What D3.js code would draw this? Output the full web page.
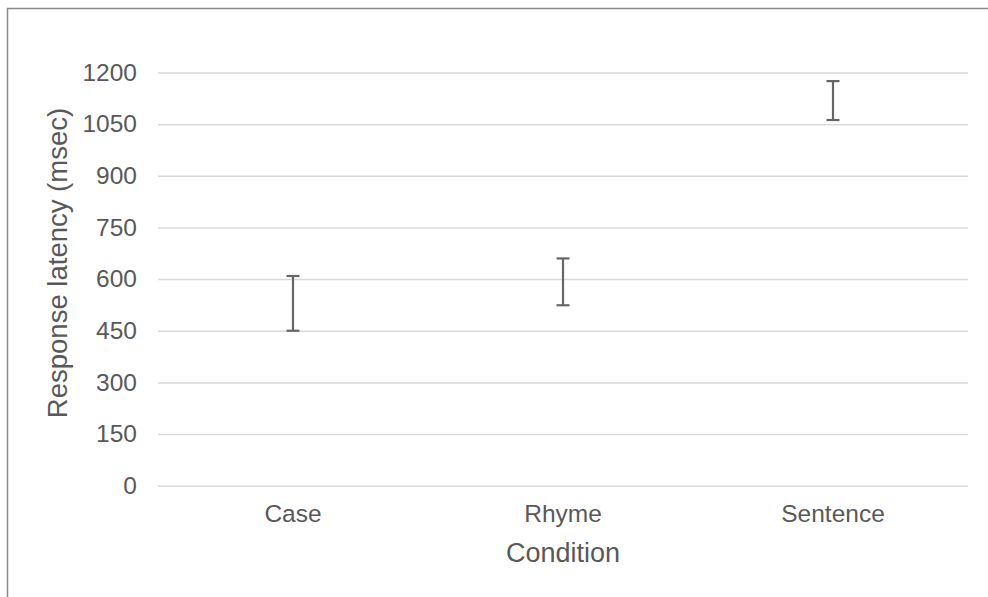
<!DOCTYPE html>
<html>
<head>
<meta charset="utf-8">
<script src="https://cdn.jsdelivr.net/npm/d3@7"></script>
<style>
  body { margin: 0; background: #fff; }
  svg { display: block; font-family: "Liberation Sans", Arial, sans-serif; }
</style>
</head>
<body>
<svg id="chart" width="988" height="597"></svg>
<script>
// condition categories and the error bar extents (msec)
const conditions = ['Case', 'Rhyme', 'Sentence'];
const lowValues = [450, 524, 1062];
const highValues = [609, 660, 1175];
const yTicks = [0, 150, 300, 450, 600, 750, 900, 1050, 1200];

const svg = d3.select('#chart');
const margin = {left: 158, right: 20, top: 72.5, bottom: 111.3};
const width = 988, height = 597;

// outer frame (only left and top edges are visible in the crop)
svg.append('path')
    .attr('d', 'M7.5,597 V8.5 H988')
    .attr('fill', 'none')
    .attr('stroke', '#8c8c8c')
    .attr('stroke-width', 1.5);

const x = d3.scaleBand()
    .domain(conditions)
    .range([margin.left, width - margin.right]);

const y = d3.scaleLinear()
    .domain([0, 1200])
    .range([height - margin.bottom, margin.top]);

// gridlines + y labels
const yAxis = svg.append('g')
    .attr('transform', `translate(${margin.left},0)`)
    .call(d3.axisLeft(y).tickValues(yTicks)
        .tickFormat(d3.format('d'))
        .tickSize(-(width - margin.left - margin.right))
        .tickPadding(21));
yAxis.select('.domain').remove();
yAxis.selectAll('.tick line').attr('stroke', '#d9d9d9').attr('stroke-width', 1.5);
yAxis.selectAll('.tick text')
    .attr('fill', '#595959')
    .attr('font-size', 24.5)
    .attr('font-family', '"Liberation Sans", Arial, sans-serif');

// x labels
const xAxis = svg.append('g')
    .attr('transform', `translate(0,${height - margin.bottom})`)
    .call(d3.axisBottom(x).tickSize(0).tickPadding(19));
xAxis.select('.domain').remove();
xAxis.selectAll('.tick text')
    .attr('fill', '#595959')
    .attr('font-size', 24.5)
    .attr('font-family', '"Liberation Sans", Arial, sans-serif');

// error bars
const bars = conditions.map((c, i) => ({cond: c, lo: lowValues[i], hi: highValues[i]}));
const capHalf = 6.5;
const eb = svg.append('g').selectAll('g').data(bars).join('g')
    .attr('stroke', '#666')
    .attr('stroke-width', 2.2);
eb.append('line')
    .attr('x1', (d) => x(d.cond) + x.bandwidth() / 2)
    .attr('x2', (d) => x(d.cond) + x.bandwidth() / 2)
    .attr('y1', (d) => y(d.lo))
    .attr('y2', (d) => y(d.hi));
eb.append('line')
    .attr('x1', (d) => x(d.cond) + x.bandwidth() / 2 - capHalf)
    .attr('x2', (d) => x(d.cond) + x.bandwidth() / 2 + capHalf)
    .attr('y1', (d) => y(d.hi))
    .attr('y2', (d) => y(d.hi));
eb.append('line')
    .attr('x1', (d) => x(d.cond) + x.bandwidth() / 2 - capHalf)
    .attr('x2', (d) => x(d.cond) + x.bandwidth() / 2 + capHalf)
    .attr('y1', (d) => y(d.lo))
    .attr('y2', (d) => y(d.lo));

// axis titles
svg.append('text')
    .attr('x', (margin.left + width - margin.right) / 2)
    .attr('y', 562)
    .attr('text-anchor', 'middle')
    .attr('fill', '#595959')
    .attr('font-size', 27)
    .text('Condition');

svg.append('text')
    .attr('transform', 'translate(67,263) rotate(-90)')
    .attr('text-anchor', 'middle')
    .attr('fill', '#595959')
    .attr('font-size', 27.5)
    .text('Response latency (msec)');
</script>
</body>
</html>
